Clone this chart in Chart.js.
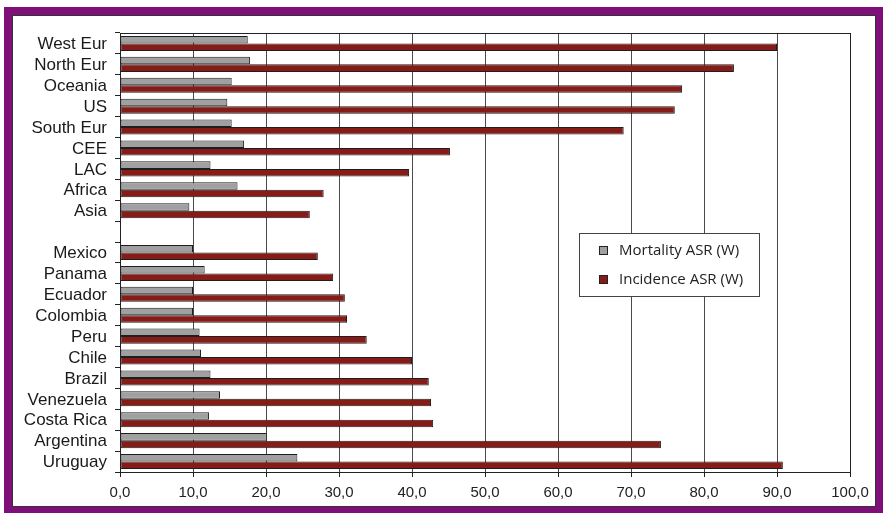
<!DOCTYPE html>
<html>
<head>
<meta charset="utf-8">
<script src="https://cdn.jsdelivr.net/npm/chart.js@4"></script>
<style>
html, body { margin: 0; padding: 0; background: #fff; }
#wrap { position: absolute; left: 0; top: 0; width: 883px; height: 513px; }
</style>
</head>
<body>
<div id="wrap"><canvas id="chart"></canvas></div>
<script>
const categories = ['West Eur', 'North Eur', 'Oceania', 'US', 'South Eur', 'CEE', 'LAC', 'Africa', 'Asia', '',
    'Mexico', 'Panama', 'Ecuador', 'Colombia', 'Peru', 'Chile', 'Brazil', 'Venezuela', 'Costa Rica', 'Argentina', 'Uruguay'];
const mortality = [17.5, 17.8, 15.3, 14.7, 15.3, 17.0, 12.4, 16.1, 9.5, null,
    10.0, 11.6, 10.0, 10.0, 10.9, 11.1, 12.4, 13.7, 12.2, 20.1, 24.3];
const incidence = [90.0, 84.1, 77.0, 76.0, 69.0, 45.2, 39.6, 27.9, 26.0, null,
    27.1, 29.2, 30.8, 31.1, 33.8, 40.0, 42.3, 42.6, 42.9, 74.1, 90.8];
const xTicks = [0, 10, 20, 30, 40, 50, 60, 70, 80, 90, 100];
const seriesNames = ['Mortality ASR (W)', 'Incidence ASR (W)'];
const seriesColors = ['#a0a0a0', '#861c18'];

const ctx = document.getElementById('chart').getContext('2d');

// purple frame behind everything
const framePlugin = {
    id: 'frame',
    beforeDraw(chart) {
        const c = chart.ctx;
        c.save();
        c.fillStyle = '#fff';
        c.fillRect(0, 0, chart.width, chart.height);
        c.fillStyle = '#7f1079';
        c.fillRect(4, 7, chart.width - 4, chart.height - 7);
        c.fillStyle = '#fff';
        c.fillRect(13, 16, 862, 490);
        c.strokeStyle = '#333';
        c.lineWidth = 1;
        c.strokeRect(12.5, 15.5, 863, 491);
        c.restore();
    }
};

// plot border + legend box inside the plot
const boxPlugin = {
    id: 'box',
    afterDraw(chart) {
        const c = chart.ctx;
        const a = chart.chartArea;
        c.save();
        c.strokeStyle = '#222';
        c.lineWidth = 1;
        c.strokeRect(Math.round(a.left) + 0.5, Math.round(a.top) + 0.5, Math.round(a.right - a.left), Math.round(a.bottom - a.top));

        c.fillStyle = '#fff';
        c.fillRect(579.5, 233.5, 180, 63);
        c.strokeStyle = '#444';
        c.strokeRect(579.5, 233.5, 180, 63);
        c.font = '15px "Open Sans"';
        c.textBaseline = 'middle';
        const rows = [251, 280];
        chart.data.datasets.forEach((ds, i) => {
            c.fillStyle = ds.backgroundColor;
            c.fillRect(599, rows[i] - 5, 9, 9);
            c.strokeStyle = '#222';
            c.strokeRect(599.5, rows[i] - 4.5, 8, 8);
            c.fillStyle = '#222';
            c.fillText(ds.label, 619, rows[i]);
        });
        c.restore();
    }
};

new Chart(ctx, {
    type: 'bar',
    data: {
        labels: categories,
        datasets: [{
            label: seriesNames[0],
            data: mortality,
            backgroundColor: seriesColors[0],
            borderColor: '#1e1e1e',
            borderWidth: 1,
            borderSkipped: false
        }, {
            label: seriesNames[1],
            data: incidence,
            backgroundColor: seriesColors[1],
            borderColor: '#1e1e1e',
            borderWidth: 1,
            borderSkipped: false
        }]
    },
    options: {
        indexAxis: 'y',
        responsive: true,
        maintainAspectRatio: false,
        animation: false,
        layout: { padding: { left: 13, top: 33, right: 33, bottom: 0 } },
        datasets: { bar: { categoryPercentage: 0.72, barPercentage: 1 } },
        plugins: { legend: { display: false }, tooltip: { enabled: false } },
        scales: {
            x: {
                type: 'linear',
                min: 0,
                max: 100,
                afterBuildTicks(scale) { scale.ticks = xTicks.map(v => ({ value: v })); },
                afterFit(scale) { scale.height = 41; },
                grid: { color: '#4a4a4a', lineWidth: 1, tickLength: 5, tickColor: '#222' },
                border: { color: '#222' },
                ticks: {
                    padding: 7,
                    color: '#222',
                    font: { family: '"Liberation Sans", Arial', size: 15 },
                    callback: v => v.toFixed(1).replace('.', ',')
                }
            },
            y: {
                type: 'category',
                offset: true,
                afterFit(scale) { scale.width = 107; },
                grid: { offset: true, drawOnChartArea: false, drawTicks: true, tickLength: 5, color: '#222' },
                border: { color: '#222' },
                ticks: {
                    padding: 8,
                    labelOffset: 1,
                    color: '#1a1a1a',
                    autoSkip: false,
                    font: { family: '"Liberation Sans", Arial', size: 17 }
                }
            }
        }
    },
    plugins: [framePlugin, boxPlugin]
});
</script>
</body>
</html>
